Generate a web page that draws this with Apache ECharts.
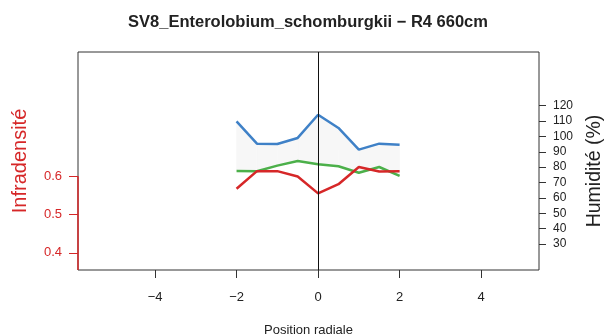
<!DOCTYPE html>
<html>
<head>
<meta charset="utf-8">
<script src="https://cdn.jsdelivr.net/npm/echarts@6/dist/echarts.min.js"></script>
<style>
  html, body { margin: 0; padding: 0; background: #fff; }
  #plot { width: 605px; height: 336px; }
</style>
</head>
<body>
<div id="plot"></div>
<script>
// positions radiales
var positions = [-2, -1.5, -1, -0.5, 0, 0.5, 1, 1.5, 2];
// humidité (%) - axe de droite
var humiditeHaute = [109.8, 95.3, 95.1, 99.0, 114.1, 105.5, 91.4, 95.3, 94.6];
var humiditeBasse = [77.5, 77.3, 81.0, 84.0, 81.9, 80.6, 76.4, 80.1, 74.3];
// infradensité - axe de gauche
var infradensite = [0.567, 0.613, 0.613, 0.599, 0.555, 0.579, 0.624, 0.612, 0.613];

var xTicks = [-4, -2, 0, 2, 4];
var leftTicks = [0.4, 0.5, 0.6];
var rightTicks = [30, 40, 50, 60, 70, 80, 90, 100, 110, 120];

var xMin = -5.89, xMax = 5.42;
var leftMin = 0.355, leftMax = 0.924;
var rightMin = 13.1, rightMax = 154.9;

var rouge = '#d62728';
var fontName = 'Liberation Sans';

function pairs(vals) {
  return positions.map(function (x, i) { return [x, vals[i]]; });
}

// segments de la bande grise entre les deux courbes d'humidité
var bande = [];
for (var i = 0; i < positions.length - 1; i++) {
  bande.push([positions[i], humiditeHaute[i], humiditeBasse[i],
              positions[i + 1], humiditeHaute[i + 1], humiditeBasse[i + 1]]);
}

function renderBande(params, api) {
  var p1 = api.coord([api.value(0), api.value(1)]);
  var p2 = api.coord([api.value(3), api.value(4)]);
  var p3 = api.coord([api.value(3), api.value(5)]);
  var p4 = api.coord([api.value(0), api.value(2)]);
  return {
    type: 'polygon',
    shape: { points: [p1, p2, p3, p4] },
    style: { fill: '#f7f7f7', stroke: '#f7f7f7', lineWidth: 0.5 },
    silent: true
  };
}

var chart = echarts.init(document.getElementById('plot'));

var option = {
  animation: false,
  textStyle: { fontFamily: fontName },
  title: {
    text: 'SV8_Enterolobium_schomburgkii \u2212 R4 660cm',
    left: 308,
    top: 14,
    padding: 0,
    textAlign: 'center',
    textStyle: { fontFamily: fontName, fontSize: 16.5, fontWeight: 'bold', color: '#222' }
  },
  grid: {
    left: 78, right: 66, top: 52, bottom: 66,
    outerBoundsMode: 'none',
    containLabel: false,
    show: true,
    borderColor: '#333',
    borderWidth: 1,
    backgroundColor: 'transparent'
  },
  xAxis: {
    type: 'value',
    min: xMin,
    max: xMax,
    name: 'Position radiale',
    nameLocation: 'middle',
    nameGap: 54,
    nameTextStyle: { fontSize: 13, color: '#222' },
    axisLine: { show: false, onZero: false },
    splitLine: { show: false },
    axisTick: { show: true, length: 8, customValues: xTicks, lineStyle: { color: '#333' } },
    axisLabel: {
      customValues: xTicks,
      fontSize: 13,
      color: '#222',
      margin: 21,
      formatter: function (v) { return v < 0 ? '\u2212' + Math.abs(v) : String(v); }
    }
  },
  yAxis: [{
    type: 'value',
    position: 'left',
    min: leftMin,
    max: leftMax,
    name: 'Infradensité',
    nameLocation: 'middle',
    nameRotate: 90,
    nameGap: 48,
    nameTextStyle: { fontSize: 20, color: rouge },
    axisLine: { show: false, onZero: false },
    splitLine: { show: false },
    axisTick: { show: true, length: 9, customValues: leftTicks, lineStyle: { color: rouge } },
    axisLabel: { customValues: leftTicks, fontSize: 13, color: rouge, margin: 16 }
  }, {
    type: 'value',
    position: 'right',
    min: rightMin,
    max: rightMax,
    axisLine: { show: false, onZero: false },
    splitLine: { show: false },
    axisTick: { show: true, length: 7, customValues: rightTicks, lineStyle: { color: '#333' } },
    axisLabel: { customValues: rightTicks, fontSize: 12, color: '#222', margin: 14 }
  }],
  graphic: [{
    type: 'text',
    x: 595,
    y: 171,
    rotation: Math.PI / 2,
    style: {
      text: 'Humidité (%)',
      font: '19.5px "Liberation Sans"',
      fill: '#222',
      align: 'center',
      verticalAlign: 'middle'
    }
  }],
  series: [{
    name: 'bande',
    type: 'custom',
    yAxisIndex: 1,
    data: bande,
    renderItem: renderBande,
    encode: { x: [0, 3], y: [1, 2, 4, 5] },
    z: 1
  }, {
    name: 'Humidité haute',
    type: 'line',
    yAxisIndex: 1,
    data: pairs(humiditeHaute),
    symbol: 'none',
    lineStyle: { color: '#3f81c7', width: 2.5 },
    markLine: {
      silent: true,
      symbol: 'none',
      label: { show: false },
      lineStyle: { color: '#111', width: 1, type: 'solid' },
      data: [{ xAxis: 0 }]
    }
  }, {
    name: 'Humidité basse',
    type: 'line',
    yAxisIndex: 1,
    data: pairs(humiditeBasse),
    symbol: 'none',
    lineStyle: { color: '#4cb04a', width: 2.5 }
  }, {
    name: 'Infradensité',
    type: 'line',
    yAxisIndex: 0,
    data: pairs(infradensite),
    symbol: 'none',
    lineStyle: { color: rouge, width: 2.5 },
    markLine: {
      silent: true,
      symbol: 'none',
      label: { show: false },
      lineStyle: { color: rouge, width: 1.5, type: 'solid' },
      data: [[{ coord: [xMin, leftMin] }, { coord: [xMin, 0.6] }]]
    }
  }]
};

chart.setOption(option);
</script>
</body>
</html>
